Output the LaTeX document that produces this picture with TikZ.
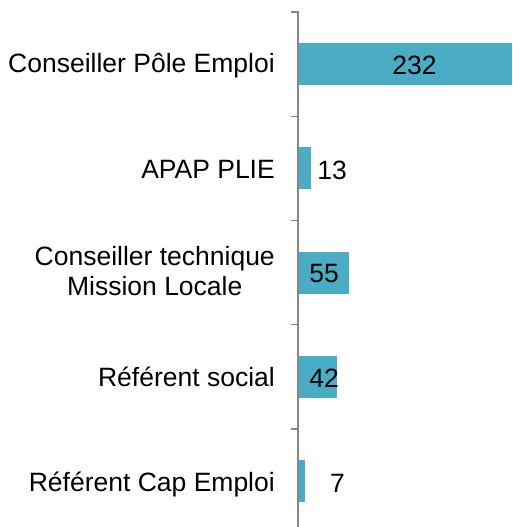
\documentclass[tikz,border=0pt]{standalone}
\usepackage{fontspec}
\setmainfont{Liberation Sans}
\usepackage{xcolor}
\definecolor{barblue}{RGB}{75,172,198}
\definecolor{axisgray}{RGB}{134,134,134}
\tikzset{
  bar/.style={fill=barblue,draw=none},
  lbl/.style={font=\fontsize{26.5}{29.5}\selectfont,inner sep=0pt},
  cat/.style={lbl,anchor=east,text height=19pt,text depth=0pt},
}

\begin{document}
\begin{tikzpicture}[x=1pt,y=-1pt]
\useasboundingbox (0,0) rectangle (512,527);

\coordinate (top) at (298,12);
\coordinate (bot) at (298,527);

\draw [axisgray,line width=1.2pt] (top) -- (bot);
\foreach \i in {0,...,4} {
\draw [axisgray,line width=1.2pt] (291,12+104.25*\i) -- (298.6,12+104.25*\i);
}

% bars, 0.92px per unit
\foreach \v [count=\i from 0] in {232,13,55,42,7} {
\fill [bar] (298.6,43+104.25*\i) rectangle ++(0.92*\v,42);
}

\node [lbl] (v232) at (414.5,65.5) {232};
\node [lbl] (v13) at (332,170.5) {13};
\node [lbl] (v55) at (324,273.5) {55};
\node [lbl] (v42) at (324,378.5) {42};
\node [lbl] (v7) at (337.5,483.5) {7};

\node [cat] (pe) at (275,63.5) {Conseiller Pôle Emploi};
\node [cat] (apap) at (275,169) {APAP PLIE};
\node [lbl,anchor=east,align=center] (ml) at (275,271) {Conseiller technique\\Mission Locale};
\node [cat] (rs) at (275,377) {Référent social};
\node [cat] (cap) at (275,482) {Référent Cap Emploi};

\end{tikzpicture}
\end{document}
